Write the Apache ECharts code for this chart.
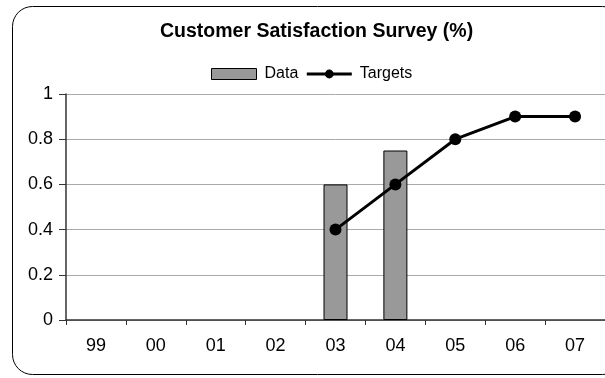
<!DOCTYPE html>
<html>
<head>
<meta charset="utf-8">
<script src="https://cdn.jsdelivr.net/npm/echarts@6/dist/echarts.min.js"></script>
<style>
  html, body { margin: 0; padding: 0; background: #fff; }
  #chart { width: 605px; height: 378px; }
</style>
</head>
<body>
<div id="chart"></div>
<script>
// values
const years = ['99', '00', '01', '02', '03', '04', '05', '06', '07']
const dataValues = ['-', '-', '-', '-', 0.6, 0.75, '-', '-', '-']
const targetValues = ['-', '-', '-', '-', 0.4, 0.6, 0.8, 0.9, 0.9]
const yTicks = { min: 0, max: 1, step: 0.2 }

const font = 'Liberation Sans, Arial, sans-serif'
const chart = echarts.init(document.getElementById('chart'))

const option = {
  animation: false,
  backgroundColor: '#fff',
  graphic: [{
    type: 'rect',
    shape: { x: 12.5, y: 6.5, width: 610, height: 368, r: 20 },
    style: { fill: 'none', stroke: '#000', lineWidth: 1 },
    z: -1
  }],
  title: {
    text: 'Customer Satisfaction Survey (%)',
    left: 155,
    top: 17,
    textStyle: { fontFamily: font, fontSize: 19.5, fontWeight: 'bold', color: '#000' }
  },
  legend: {
    left: 206,
    top: 61,
    itemWidth: 45,
    itemHeight: 11,
    itemGap: 7,
    lineStyle: { width: 3 },
    textStyle: { fontFamily: font, fontSize: 16, color: '#000', padding: [0, 0, 0, 3] },
    data: [
      { name: 'Data', icon: 'rect', itemStyle: { borderWidth: 1 } },
      { name: 'Targets' }
    ]
  },
  grid: { left: 66, right: 0, top: 94, bottom: 58, containLabel: false },
  xAxis: {
    type: 'category',
    data: years,
    boundaryGap: true,
    axisLine: { lineStyle: { color: '#333', width: 1.5 } },
    axisTick: { show: true, length: 5, lineStyle: { color: '#333' } },
    axisLabel: { fontFamily: font, fontSize: 18, color: '#000', margin: 17 }
  },
  yAxis: {
    type: 'value',
    min: yTicks.min,
    max: yTicks.max,
    interval: yTicks.step,
    axisLine: { show: true, lineStyle: { color: '#333', width: 1.5 } },
    axisTick: { show: true, length: 7, lineStyle: { color: '#333' } },
    axisLabel: { fontFamily: font, fontSize: 18, color: '#000', margin: 13 },
    splitLine: { lineStyle: { color: '#aaaaaa', width: 1 } }
  },
  series: [
    {
      name: 'Data',
      type: 'bar',
      data: dataValues,
      barWidth: 24,
      itemStyle: { color: '#999999', borderColor: '#000', borderWidth: 1 }
    },
    {
      name: 'Targets',
      type: 'line',
      data: targetValues,
      symbol: 'circle',
      symbolSize: 12,
      lineStyle: { color: '#000', width: 3 },
      itemStyle: { color: '#000' },
      z: 3
    }
  ]
}

chart.setOption(option)
</script>
</body>
</html>
